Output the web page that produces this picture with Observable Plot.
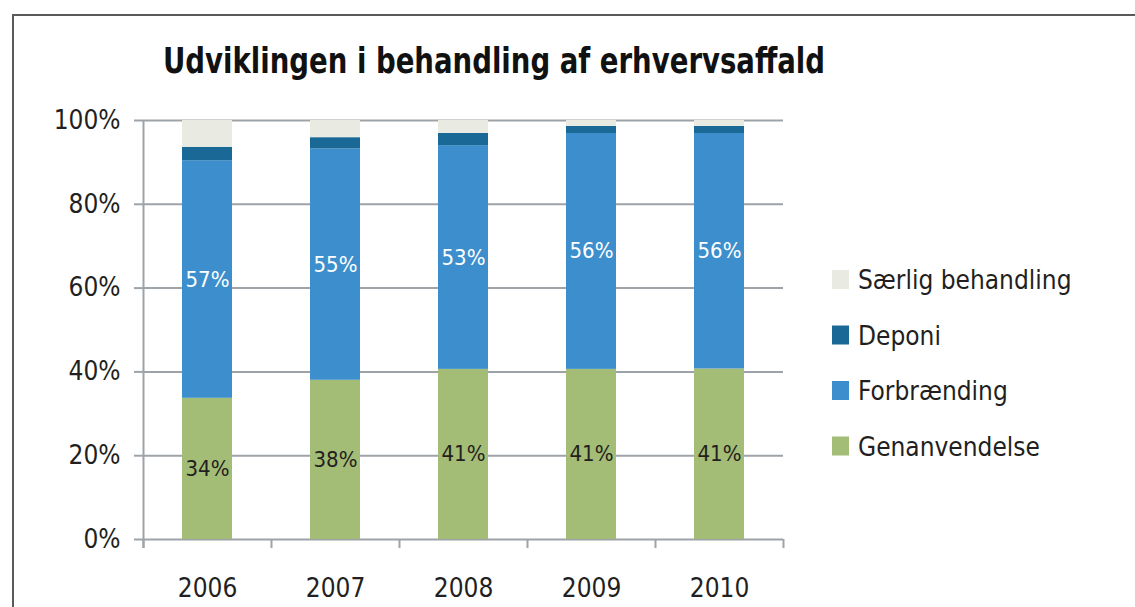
<!DOCTYPE html>
<html>
<head>
<meta charset="utf-8">
<script src="https://cdn.jsdelivr.net/npm/d3@7"></script>
<script src="https://cdn.jsdelivr.net/npm/@observablehq/plot@0.6"></script>
<style>
  html, body { margin: 0; padding: 0; background: #fff; }
  #wrap { position: relative; width: 1135px; height: 607px; overflow: hidden; }
  #frame { position: absolute; left: 12px; top: 14px; right: -10px; bottom: -10px;
           border-left: 2px solid #5a5a5a; border-top: 2px solid #5a5a5a; }
  #chart { position: absolute; left: 0; top: 0; }
  #overlay { position: absolute; left: 0; top: 0; pointer-events: none; }
  #chart g[aria-label^="y-axis"] line, #chart g[aria-label^="y-axis"] path {
    stroke: #9ea3a8; stroke-width: 2; stroke-opacity: 1;
  }
</style>
</head>
<body>
<div id="wrap">
  <div id="frame"></div>
  <div id="chart"></div>
  <svg id="overlay" width="1135" height="607"></svg>
</div>
<script>
const title = "Udviklingen i behandling af erhvervsaffald";
const years = ["2006", "2007", "2008", "2009", "2010"];
const series = ["Genanvendelse", "Forbrænding", "Deponi", "Særlig behandling"];
const colors = ["#a3bd77", "#3c8fcc", "#1a6896", "#e9ebe3"];
const genanvendelse = [33.7, 38.0, 40.6, 40.6, 40.7];
const forbraending  = [56.7, 55.2, 53.4, 56.3, 56.2];
const deponi        = [3.2, 2.7, 2.9, 1.7, 1.7];
const saerlig       = [6.4, 4.1, 3.1, 1.4, 1.4];
const yTicks = [0, 20, 40, 60, 80, 100];
const legendOrder = ["Særlig behandling", "Deponi", "Forbrænding", "Genanvendelse"];

const seriesValues = [genanvendelse, forbraending, deponi, saerlig];
const rows = [];
years.forEach((year, i) => {
  series.forEach((s, j) => rows.push({year, series: s, value: seriesValues[j][i]}));
});
const labelRows = rows.filter(d => d.series === "Genanvendelse" || d.series === "Forbrænding");
const grid = "#9ea3a8";
const tickDepth = -2.15;

const chart = Plot.plot({
  width: 1135,
  height: 607,
  marginLeft: 143,
  marginRight: 352,
  marginTop: 120,
  marginBottom: 68,
  style: {fontFamily: "'DejaVu Sans Condensed', 'DejaVu Sans', sans-serif", fontSize: "26px",
          color: "#231f20", background: "transparent", overflow: "visible"},
  x: {domain: years, paddingInner: 0.61, paddingOuter: 0.305, label: null, tickSize: 0, tickPadding: 39},
  y: {domain: [0, 100], ticks: yTicks, tickFormat: d => d + "%", tickSize: 9, tickPadding: 14, label: null},
  color: {domain: series, range: colors},
  marks: [
    Plot.ruleY(yTicks, {stroke: grid, strokeWidth: 2}),
    Plot.barY(rows, {x: "year", y: "value", fill: "series", order: series}),
    Plot.text(labelRows, Plot.stackY({x: "year", y: "value", z: "series", order: series,
      text: d => d.series === "Forbrænding" ? Math.round(d.value) + "%" : "",
      fill: "white", fontSize: 22})),
    Plot.text(labelRows.filter(d => d.series === "Genanvendelse"), Plot.stackY({x: "year", y: "value", z: "series",
      text: d => Math.round(d.value) + "%", fill: "#231f20", fontSize: 22})),
    Plot.ruleX(years, {x: d => d, dx: -64, y1: 0, y2: tickDepth, stroke: grid, strokeWidth: 2}),
    Plot.ruleX(years.slice(-1), {x: d => d, dx: 64, y1: 0, y2: tickDepth, stroke: grid, strokeWidth: 2}),
    Plot.ruleX(years.slice(0, 1), {x: d => d, dx: -64, y1: 100, y2: tickDepth, stroke: grid, strokeWidth: 2})
  ]
});
document.getElementById("chart").appendChild(chart);

// Title and legend
const ov = d3.select("#overlay");
ov.append("text")
  .attr("x", 163).attr("y", 73)
  .attr("font-family", "'DejaVu Sans Condensed', 'DejaVu Sans', sans-serif")
  .attr("font-weight", "bold").attr("font-size", 36).attr("fill", "#111")
  .attr("textLength", 662).attr("lengthAdjust", "spacingAndGlyphs")
  .text(title);

const lg = ov.append("g").attr("transform", "translate(832,270)");
legendOrder.forEach((s, i) => {
  const g = lg.append("g").attr("transform", `translate(0,${i * 55.5})`);
  g.append("rect").attr("width", 17).attr("height", 19).attr("fill", colors[series.indexOf(s)]);
  g.append("text").attr("x", 26).attr("y", 19)
    .attr("font-family", "'DejaVu Sans Condensed', 'DejaVu Sans', sans-serif")
    .attr("font-size", 26).attr("fill", "#231f20").text(s);
});
</script>
</body>
</html>
